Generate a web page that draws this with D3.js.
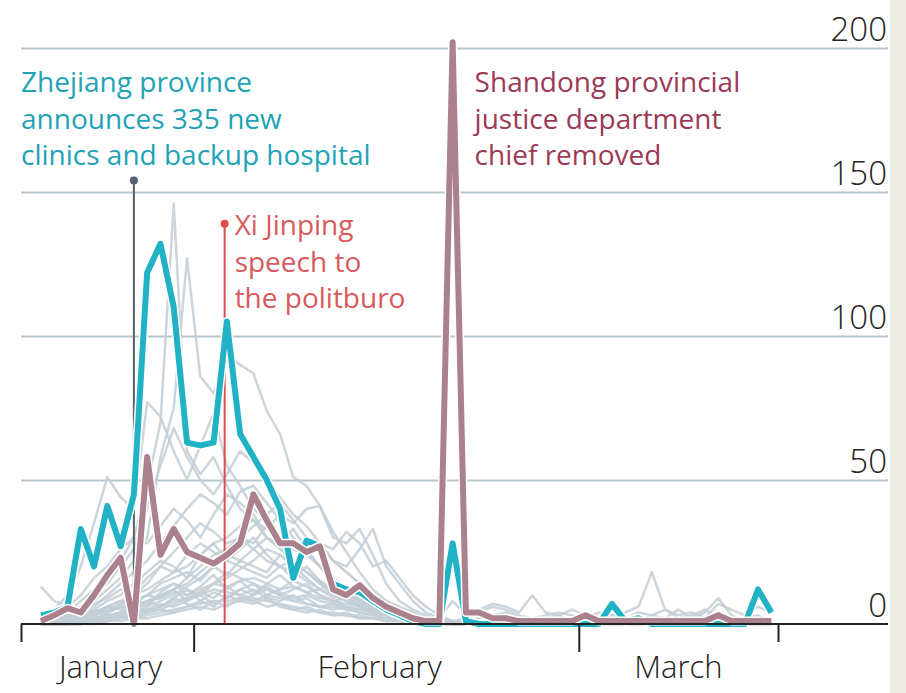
<!DOCTYPE html>
<html>
<head>
<meta charset="utf-8">
<script src="https://cdn.jsdelivr.net/npm/d3@7"></script>
<style>
  body { margin: 0; background: #fff; }
  svg { display: block; font-family: "Open Sans", sans-serif; }
</style>
</head>
<body>
<svg width="906" height="693"></svg>
<script>
// daily values, Jan 20 to Mar 15 2020 (one value per day)
var firstDay = new Date(2020, 0, 20, 12);

var zhejiang = [3, 4, 6, 33, 20, 41, 27, 45, 122, 132, 110, 63, 62, 63, 105, 66,
  58, 50, 40, 16, 29, 27, 14, 12, 11, 8, 5, 3, 1, 0, 0, 28,
  1, 0, 0, 0, 0, 0, 0, 0, 0, 0, 0, 7, 1, 2, 0, 0,
  0, 0, 0, 0, 0, 0, 12, 4];

var shandong = [1, 3, 5.5, 4, 10, 17, 23, 0, 58, 24, 33, 25, 23, 21, 24, 28,
  45, 36, 28, 28, 25, 27, 12, 10, 13.5, 9, 6, 4, 2, 1, 1, 202,
  4, 4, 2, 2, 1, 1, 1, 1, 1, 3, 1, 1, 1, 1, 1, 1,
  1, 1, 1, 3, 1, 1, 1, 1];

// other provinces (grey)
var others = [
  [0, 2, 4, 8, 12, 18, 22, 30, 48, 70, 146, 60, 52, 58, 48, 40, 36, 30, 26, 22, 18, 14, 10, 8, 6, 4, 3, 2, 1, 1, 0, 0, 0, 0, 0, 0, 0, 0, 0, 0, 0, 0, 0, 0, 0, 0, 0, 0, 0, 0, 0, 0, 0, 0, 0, 0],
  [0, 1, 3, 5, 8, 12, 16, 22, 30, 58, 75, 127, 86, 80, 93, 90, 87, 74, 66, 51, 48, 41, 32, 25, 18, 12, 8, 5, 3, 2, 1, 0, 0, 0, 0, 0, 0, 0, 0, 0, 0, 0, 0, 0, 0, 0, 0, 0, 0, 0, 0, 0, 0, 0, 0, 0],
  [2, 5, 10, 20, 35, 51, 44, 40, 77, 72, 60, 50, 62, 73, 55, 48, 40, 36, 30, 28, 24, 20, 16, 12, 9, 7, 5, 3, 2, 1, 1, 0, 0, 0, 0, 0, 0, 0, 0, 0, 0, 0, 0, 0, 0, 0, 0, 0, 0, 0, 0, 0, 0, 0, 0, 0],
  [13, 8, 6, 10, 16, 20, 26, 30, 28, 34, 40, 36, 30, 38, 45, 42, 38, 30, 28, 33, 26, 20, 14, 10, 8, 6, 4, 3, 2, 2, 1, 1, 1, 0, 0, 0, 0, 0, 0, 0, 0, 0, 0, 0, 0, 0, 0, 0, 0, 0, 0, 0, 0, 0, 0, 0],
  [0, 0, 1, 2, 4, 6, 8, 10, 12, 15, 18, 20, 24, 28, 30, 34, 36, 33, 38, 35, 40, 41, 30, 28, 33, 24, 14, 8, 5, 3, 1, 0, 0, 0, 0, 0, 0, 0, 0, 0, 0, 0, 0, 0, 0, 0, 0, 0, 0, 0, 0, 0, 0, 0, 0, 0],
  [0, 0, 0, 1, 2, 3, 4, 6, 8, 10, 12, 14, 18, 22, 26, 30, 28, 34, 30, 26, 24, 28, 22, 20, 26, 33, 20, 14, 8, 4, 2, 1, 0, 0, 0, 0, 0, 0, 0, 0, 0, 0, 0, 0, 0, 0, 0, 0, 0, 0, 0, 0, 0, 0, 0, 0],
  [1, 2, 4, 6, 10, 14, 20, 26, 40, 55, 68, 58, 50, 45, 52, 60, 56, 50, 44, 38, 34, 28, 22, 18, 14, 10, 7, 5, 3, 2, 1, 1, 0, 0, 0, 0, 0, 0, 0, 0, 0, 0, 0, 0, 0, 0, 0, 0, 0, 0, 0, 0, 0, 0, 0, 0],
  [0, 1, 2, 4, 6, 10, 14, 18, 22, 28, 34, 40, 45, 42, 38, 46, 48, 42, 36, 30, 25, 20, 16, 12, 10, 8, 6, 4, 3, 2, 1, 0, 0, 0, 0, 0, 0, 0, 0, 0, 0, 0, 0, 0, 0, 0, 0, 0, 0, 0, 0, 0, 0, 0, 0, 0],
  [0, 0, 1, 3, 5, 8, 10, 14, 18, 22, 20, 16, 24, 28, 22, 20, 18, 16, 20, 22, 18, 14, 12, 10, 8, 6, 5, 4, 3, 2, 1, 1, 0, 0, 0, 0, 0, 0, 0, 0, 0, 0, 0, 0, 0, 0, 0, 0, 0, 0, 0, 0, 0, 0, 0, 0],
  [0, 1, 2, 2, 4, 6, 5, 8, 10, 12, 14, 12, 10, 14, 18, 16, 14, 12, 10, 12, 14, 10, 8, 6, 5, 4, 3, 3, 2, 1, 1, 0, 0, 0, 0, 0, 0, 0, 0, 0, 0, 0, 0, 0, 0, 0, 0, 0, 0, 0, 0, 0, 0, 0, 0, 0],
  [0, 0, 0, 1, 1, 2, 3, 4, 6, 8, 10, 13, 16, 20, 24, 22, 26, 30, 27, 22, 18, 15, 12, 10, 8, 6, 4, 3, 2, 1, 1, 0, 0, 0, 0, 0, 0, 0, 0, 0, 0, 0, 0, 0, 0, 0, 0, 0, 0, 0, 0, 0, 0, 0, 0, 0],
  [0, 0, 1, 2, 3, 5, 7, 10, 14, 20, 25, 30, 35, 32, 28, 30, 26, 22, 20, 18, 15, 12, 10, 8, 6, 5, 4, 3, 2, 1, 0, 0, 0, 0, 0, 0, 0, 0, 0, 0, 0, 0, 0, 0, 0, 0, 0, 0, 0, 0, 0, 0, 0, 0, 0, 0],
  [0, 0, 0, 0, 1, 2, 3, 5, 7, 10, 12, 16, 20, 24, 26, 30, 34, 38, 42, 36, 30, 26, 22, 18, 14, 10, 8, 6, 4, 2, 1, 0, 0, 0, 0, 0, 0, 0, 0, 0, 0, 0, 0, 0, 0, 0, 0, 0, 0, 0, 0, 0, 0, 0, 0, 0],
  [0, 0, 1, 1, 2, 3, 4, 6, 8, 9, 11, 10, 12, 14, 13, 15, 16, 14, 12, 13, 11, 9, 8, 7, 6, 5, 5, 4, 3, 2, 2, 1, 0, 0, 0, 0, 0, 0, 0, 0, 0, 0, 0, 0, 0, 0, 0, 0, 0, 0, 0, 0, 0, 0, 0, 0],
  [0, 0, 0, 1, 1, 2, 3, 4, 5, 6, 8, 9, 10, 12, 11, 10, 9, 8, 7, 6, 5, 4, 4, 3, 3, 2, 2, 1, 1, 1, 0, 0, 1, 2, 3, 4, 2, 1, 2, 3, 1, 2, 1, 3, 4, 6, 18, 5, 2, 3, 5, 2, 1, 2, 3, 0],
  [0, 0, 0, 0, 1, 1, 2, 2, 3, 4, 5, 6, 7, 8, 8, 9, 8, 10, 9, 8, 7, 6, 6, 5, 5, 4, 3, 3, 2, 2, 1, 1, 2, 5, 7, 6, 4, 10, 4, 3, 5, 3, 2, 1, 2, 4, 3, 2, 5, 2, 4, 9, 3, 1, 2, 1],
  [0, 0, 0, 0, 0, 1, 1, 2, 2, 3, 4, 5, 6, 5, 7, 8, 10, 12, 11, 9, 10, 8, 7, 6, 5, 5, 4, 3, 3, 2, 2, 8, 3, 4, 6, 5, 3, 2, 3, 4, 3, 2, 4, 3, 2, 1, 3, 5, 3, 4, 2, 7, 5, 3, 6, 4],
  [0, 1, 1, 2, 3, 4, 6, 8, 10, 14, 16, 18, 15, 20, 17, 22, 20, 18, 24, 20, 16, 12, 14, 10, 9, 7, 6, 5, 3, 2, 1, 1, 0, 0, 0, 0, 0, 0, 0, 0, 0, 0, 0, 0, 0, 0, 0, 0, 0, 0, 0, 0, 0, 0, 0, 0],
  [2, 4, 3, 5, 7, 9, 12, 11, 16, 20, 18, 24, 28, 25, 22, 26, 30, 24, 20, 16, 20, 15, 11, 9, 7, 6, 4, 3, 2, 1, 1, 0, 0, 0, 0, 0, 0, 0, 0, 0, 0, 0, 0, 0, 0, 0, 0, 0, 0, 0, 0, 0, 0, 0, 0, 0],
  [0, 0, 0, 0, 1, 1, 2, 3, 4, 5, 7, 9, 11, 14, 16, 19, 22, 26, 24, 20, 24, 28, 26, 32, 28, 20, 22, 16, 10, 6, 3, 1, 0, 0, 0, 0, 0, 0, 0, 0, 0, 0, 0, 0, 0, 0, 0, 0, 0, 0, 0, 0, 0, 0, 0, 0],
  [1, 2, 2, 4, 3, 6, 8, 7, 10, 9, 12, 8, 11, 9, 13, 10, 12, 9, 8, 10, 7, 6, 5, 6, 4, 3, 2, 2, 1, 1, 0, 0, 0, 0, 1, 0, 0, 0, 0, 0, 0, 0, 0, 0, 0, 0, 0, 0, 0, 0, 0, 0, 0, 0, 0, 0],
  [0, 1, 3, 2, 5, 4, 7, 9, 6, 11, 14, 10, 13, 17, 12, 15, 11, 13, 10, 8, 9, 6, 7, 5, 4, 3, 3, 2, 1, 1, 1, 0, 0, 0, 0, 0, 0, 0, 0, 0, 0, 0, 0, 0, 0, 0, 0, 0, 0, 0, 0, 0, 0, 0, 0, 0],
  [0, 0, 1, 1, 2, 3, 2, 4, 5, 7, 6, 8, 10, 7, 9, 12, 14, 10, 12, 15, 13, 10, 8, 9, 7, 5, 4, 3, 2, 2, 1, 0, 0, 0, 0, 0, 0, 0, 0, 0, 0, 0, 0, 0, 0, 0, 0, 0, 0, 0, 0, 0, 0, 0, 0, 0],
  [0, 0, 0, 1, 2, 2, 3, 5, 4, 6, 9, 12, 8, 6, 10, 8, 7, 9, 6, 5, 6, 4, 3, 4, 2, 2, 1, 1, 1, 0, 0, 0, 0, 0, 0, 0, 0, 0, 0, 0, 0, 0, 0, 0, 0, 0, 0, 0, 0, 0, 0, 0, 0, 0, 0, 0],
  [1, 0, 2, 3, 1, 4, 6, 5, 8, 6, 9, 7, 5, 8, 6, 9, 8, 6, 7, 5, 4, 5, 3, 3, 2, 2, 1, 1, 0, 0, 0, 0, 0, 1, 0, 0, 0, 0, 0, 0, 0, 0, 0, 0, 0, 0, 0, 0, 0, 0, 0, 0, 0, 0, 0, 0],
  [0, 0, 0, 0, 1, 1, 3, 2, 4, 5, 4, 6, 8, 11, 9, 12, 10, 14, 17, 13, 11, 12, 9, 11, 8, 6, 5, 3, 2, 1, 1, 0, 0, 0, 0, 0, 0, 0, 0, 0, 0, 0, 0, 0, 0, 0, 0, 0, 0, 0, 0, 0, 0, 0, 0, 0]
];

var yTicks = [0, 50, 100, 150, 200];
var monthTicks = [new Date(2020, 1, 1), new Date(2020, 2, 1)];
var months = [
  { name: "January", at: new Date(2020, 0, 25, 18) },
  { name: "February", at: new Date(2020, 1, 15) },
  { name: "March", at: new Date(2020, 2, 8, 12) }
];

var events = [
  { date: new Date(2020, 0, 27, 12), top: 154, color: "#56616d",
    lines: ["Zhejiang province", "announces 335 new", "clinics and backup hospital"], textColor: "#1ea3b6" },
  { date: new Date(2020, 1, 3, 8), top: 139, color: "#e04b4f",
    lines: ["Xi Jinping", "speech to", "the politburo"], textColor: "#d95a5c" },
  { date: new Date(2020, 1, 20, 12), top: null, color: null,
    lines: ["Shandong provincial", "justice department", "chief removed"], textColor: "#9c3a55" }
];

var svg = d3.select("svg"),
    left = 21, right = 888;

var days = zhejiang.map(function (d, i) { return d3.timeDay.offset(firstDay, i); });

var x = d3.scaleTime()
    .domain([new Date(2020, 0, 19), new Date(2020, 2, 16)])
    .range([21, 778]);
var y = d3.scaleLinear().domain([0, 200]).range([624, 48]);

// side strip
svg.append("rect").attr("x", 890).attr("y", 0).attr("width", 16).attr("height", 693).attr("fill", "#ecebe4");

// grid + y labels
var grid = svg.append("g")
    .attr("transform", "translate(" + right + ",0)")
    .call(d3.axisRight(y).tickValues(yTicks).tickSize(-(right - left)).tickSizeOuter(0));
grid.select(".domain").remove();
grid.selectAll("line")
    .attr("stroke", function (d) { return d === 0 ? "none" : "#b8c5cd"; })
    .attr("stroke-width", 2);
grid.selectAll("text")
    .attr("x", -1).attr("dy", -8)
    .attr("text-anchor", "end")
    .attr("fill", "#222")
    .style("font-size", "33px")
    .style("font-weight", 300)
    .style("font-family", "'Open Sans', sans-serif");

// grey lines
var line = d3.line()
    .x(function (d, i) { return x(days[i]); })
    .y(function (d) { return y(d); });

svg.append("g").selectAll("path")
    .data(others)
    .join("path")
    .attr("d", line)
    .attr("fill", "none")
    .attr("stroke", "#c3ced6")
    .attr("stroke-opacity", 0.85)
    .attr("stroke-width", 2.5)
    .attr("stroke-linejoin", "round");

// event markers
var marks = svg.append("g").selectAll("g")
    .data(events.filter(function (e) { return e.top !== null; }))
    .join("g");
marks.append("line")
    .attr("x1", function (d) { return x(d.date); })
    .attr("x2", function (d) { return x(d.date); })
    .attr("y1", function (d) { return y(d.top); })
    .attr("y2", y(0))
    .attr("stroke", function (d) { return d.color; })
    .attr("stroke-width", 2);
marks.append("circle")
    .attr("cx", function (d) { return x(d.date); })
    .attr("cy", function (d) { return y(d.top); })
    .attr("r", 4)
    .attr("fill", function (d) { return d.color; });

// highlighted provinces
function drawSeries(data, color) {
  svg.append("path").datum(data).attr("d", line)
      .attr("fill", "none").attr("stroke", "#fff")
      .attr("stroke-width", 9).attr("stroke-linejoin", "round");
  svg.append("path").datum(data).attr("d", line)
      .attr("fill", "none").attr("stroke", color)
      .attr("stroke-width", 6).attr("stroke-linejoin", "round");
}
drawSeries(zhejiang, "#22b2c6");
drawSeries(shandong, "#ab818d");

// x axis
svg.append("line")
    .attr("x1", left).attr("x2", right)
    .attr("y1", y(0)).attr("y2", y(0))
    .attr("stroke", "#222").attr("stroke-width", 2);

var xMonths = svg.append("g")
    .attr("transform", "translate(0," + y(0) + ")")
    .call(d3.axisBottom(x).tickValues(monthTicks).tickSize(28).tickSizeOuter(0).tickFormat(""));
var xEnds = svg.append("g")
    .attr("transform", "translate(0," + y(0) + ")")
    .call(d3.axisBottom(x).tickValues(x.domain()).tickSize(18).tickSizeOuter(0).tickFormat(""));
svg.selectAll(".domain").remove();
svg.selectAll(".tick line").filter(function () { return this.parentNode.parentNode !== grid.node(); })
    .attr("stroke", "#222").attr("stroke-width", 2);

svg.append("g").selectAll("text")
    .data(months)
    .join("text")
    .attr("x", function (d) { return x(d.at); })
    .attr("y", 678)
    .attr("text-anchor", "middle")
    .attr("fill", "#222")
    .style("font-size", "31px")
    .style("font-weight", 300)
    .text(function (d) { return d.name; });

// annotation texts
var labelPos = [
  { x: left, y: 92 },
  { x: x(events[1].date) + 10, y: 235 },
  { x: x(events[2].date) + 22, y: 92 }
];
events.forEach(function (e, k) {
  var t = svg.append("text")
      .attr("x", labelPos[k].x)
      .attr("y", labelPos[k].y)
      .attr("fill", e.textColor)
      .style("font-size", "28px");
  t.selectAll("tspan")
      .data(e.lines)
      .join("tspan")
      .attr("x", labelPos[k].x)
      .attr("dy", function (d, i) { return i === 0 ? 0 : 36.5; })
      .text(function (d) { return d; });
});
</script>
</body>
</html>
